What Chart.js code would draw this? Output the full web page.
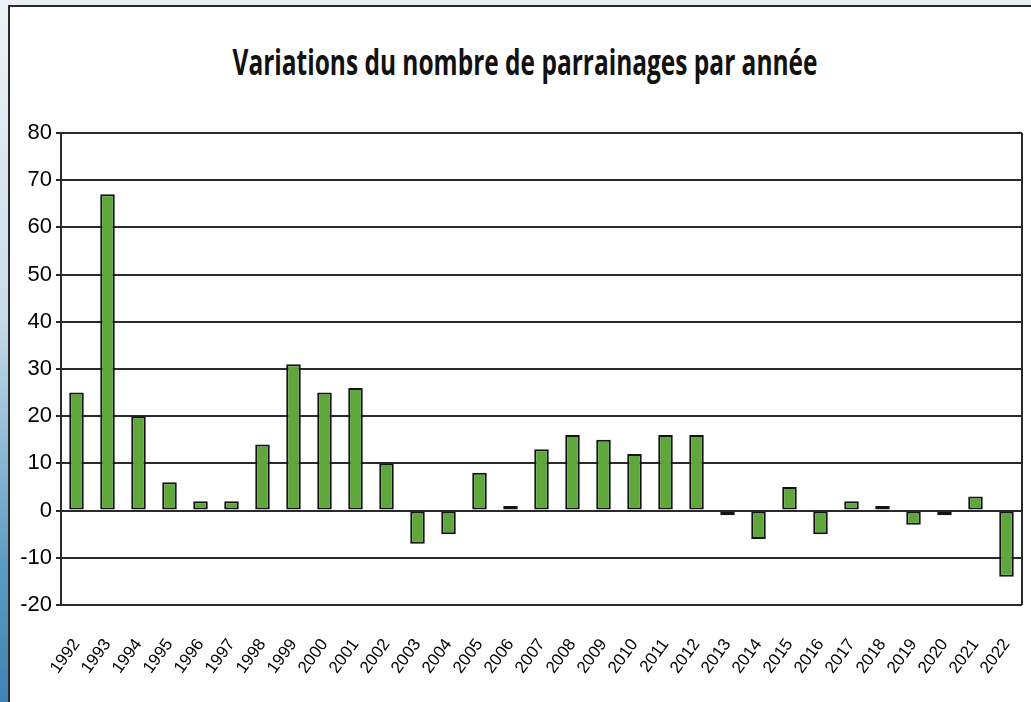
<!DOCTYPE html>
<html>
<head>
<meta charset="utf-8">
<script src="https://cdn.jsdelivr.net/npm/chart.js@4"></script>
<style>
  html, body { margin: 0; padding: 0; }
  body { width: 1031px; height: 702px; background: #e8eef3; position: relative; overflow: hidden; }
  #strip { position: absolute; left: 0; top: 0; width: 8px; height: 702px;
           background: linear-gradient(to bottom, #eef3f7 0%, #c9dce9 45%, #5d9cc4 80%, #3f83b3 100%); }
  #frame { position: absolute; left: 8px; top: 5px; width: 1030px; height: 700px;
           background: #fff; border-left: 2px solid #2a2a2a; border-top: 2px solid #2a2a2a; }
  #wrap { position: absolute; left: 0; top: 0; width: 1031px; height: 702px; }
  #title { position: absolute; left: 525px; top: 44px; white-space: nowrap;
           font-family: "Open Sans", sans-serif; font-weight: bold; font-size: 36px;
           line-height: 36px; color: #111; transform-origin: center; }
</style>
</head>
<body>
<div id="strip"></div>
<div id="frame"></div>
<div id="title">Variations du nombre de parrainages par année</div>
<div id="wrap"><canvas id="chart" width="1031" height="702"></canvas></div>
<script>
// Années et variations du nombre de parrainages
const years = ["1992", "1993", "1994", "1995", "1996", "1997", "1998", "1999", "2000", "2001",
  "2002", "2003", "2004", "2005", "2006", "2007", "2008", "2009", "2010", "2011",
  "2012", "2013", "2014", "2015", "2016", "2017", "2018", "2019", "2020", "2021", "2022"];
const variations = [25, 67, 20, 6, 2, 2, 14, 31, 25, 26,
  10, -7, -5, 8, 1, 13, 16, 15, 12, 16,
  16, -1, -6, 5, -5, 2, 1, -3, -1, 3, -14];
const yMin = -20;
const yMax = 80;
const yStep = 10;

const tickFont = "'Liberation Sans', Arial, sans-serif";

// squeeze the title to the narrow width of the original
const title = document.getElementById("title");
const titleWidth = title.getBoundingClientRect().width;
title.style.transform = `translateX(-50%) scaleX(${585 / titleWidth})`;

// right edge of the plot box
const plotFrame = {
  id: "plotFrame",
  afterDraw(chart) {
    const { ctx, chartArea } = chart;
    ctx.save();
    ctx.strokeStyle = "#2a2a2a";
    ctx.lineWidth = 2;
    ctx.beginPath();
    ctx.moveTo(chartArea.right, chartArea.top);
    ctx.lineTo(chartArea.right, chartArea.bottom);
    ctx.stroke();
    ctx.restore();
  },
};

const ctx = document.getElementById("chart").getContext("2d");
new Chart(ctx, {
  type: "bar",
  data: {
    labels: years,
    datasets: [
      {
        label: "Variation",
        data: variations,
        backgroundColor: "#5fa63b",
        borderColor: "#141414",
        borderWidth: 2,
        borderSkipped: false,
        barPercentage: 0.47,
        categoryPercentage: 1,
      },
    ],
  },
  options: {
    responsive: false,
    animation: false,
    layout: { padding: { left: 0, right: 9, top: 133, bottom: 0 } },
    plugins: {
      legend: { display: false },
      tooltip: { enabled: false },
    },
    scales: {
      x: {
        grid: { display: false, drawTicks: false },
        border: { display: false },
        ticks: {
          color: "#000",
          font: { family: tickFont, size: 17 },
          minRotation: 54,
          maxRotation: 54,
          padding: 30,
          autoSkip: false,
        },
        afterFit: (s) => {
          s.height = 97;
          s.paddingLeft = 0;
          s.paddingRight = 0;
        },
      },
      y: {
        min: yMin,
        max: yMax,
        grid: { color: "#2a2a2a", lineWidth: 2, tickLength: 5 },
        border: { color: "#2a2a2a", width: 2 },
        ticks: {
          stepSize: yStep,
          color: "#000",
          padding: 4,
          font: { family: tickFont, size: 22 },
        },
        afterFit: (s) => { s.width = 61; },
      },
    },
  },
  plugins: [plotFrame],
});
</script>
</body>
</html>
